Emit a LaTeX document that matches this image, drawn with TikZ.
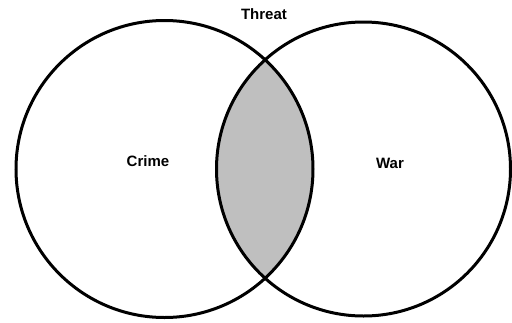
\documentclass[tikz,border=0pt]{standalone}
\usepackage{fontspec}
\setmainfont{Liberation Sans}
\definecolor{lensgray}{RGB}{191,191,191}
\tikzset{
  ring/.style={draw=black, line width=3pt},
  lbl/.style={font=\fontsize{15}{18}\selectfont\bfseries, inner sep=0pt}
}
\begin{document}
\begin{tikzpicture}[x=1pt,y=-1pt]
\useasboundingbox (0,0) rectangle (512,322);
\coordinate (cl) at (164.5,169);
\coordinate (cr) at (363.5,169);
\begin{scope}
  \clip (cl) circle[radius=148.5];
  \fill[lensgray] (cr) circle[radius=147];
\end{scope}
\draw[ring] (cl) circle[radius=148.5];
\draw[ring] (cr) circle[radius=147];
\node[lbl] (threat) at (264,14) {Threat};
\node[lbl] (crime) at (148,161) {Crime};
\node[lbl] (war) at (390,163) {War};
\end{tikzpicture}
\end{document}
